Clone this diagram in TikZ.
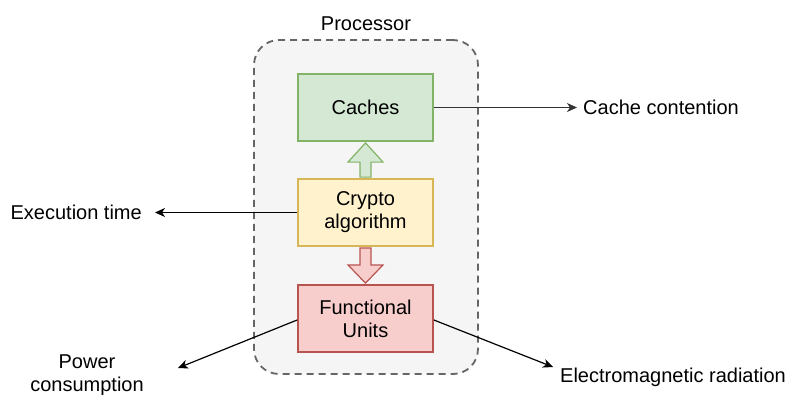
\documentclass[tikz,border=0pt]{standalone}
\usepackage{fontspec}
\setmainfont{Liberation Sans}
\usetikzlibrary{arrows.meta,calc}
\definecolor{contfill}{HTML}{F5F5F5}
\definecolor{contline}{HTML}{666666}
\definecolor{gfill}{HTML}{D5E8D4}
\definecolor{gline}{HTML}{82B366}
\definecolor{yfill}{HTML}{FFF2CC}
\definecolor{yline}{HTML}{D6B656}
\definecolor{rfill}{HTML}{F8CECC}
\definecolor{rline}{HTML}{B85450}
\definecolor{darkline}{HTML}{333333}
\tikzset{
  txt/.style={font=\fontsize{20}{23}\selectfont, align=center, inner sep=0pt},
  comp/.style={draw, line width=1.8pt, minimum width=135pt, minimum height=67pt, txt},
  container/.style={draw=contline, fill=contfill, line width=1.8pt, dash pattern=on 7pt off 5pt, rounded corners=25pt, minimum width=224pt, minimum height=334pt},
  leak/.style={line width=1.2pt, -{Stealth[length=10pt,width=9pt,inset=3pt]}},
  blockarrow/.style={line width=1.2pt}
}
\begin{document}
\begin{tikzpicture}[x=1pt,y=-1pt]
\useasboundingbox (0,0) rectangle (785,394);
\node[container] (proc) at (366,207) {};
\node[txt] (proclabel) at (366,24) {Processor};
\node[comp, fill=gfill, draw=gline] (caches) at (365.5,107.5) {Caches};
\node[comp, fill=yfill, draw=yline] (crypto) at (365.5,212.5) {Crypto\\algorithm};
\node[comp, fill=rfill, draw=rline] (fu) at (365.5,318.5) {Functional\\Units};
% block arrows
\draw[blockarrow, draw=gline, fill=gfill]
  ($(crypto.north)+(-5.5,-1)$) -- ($(crypto.north)+(-5.5,-16)$) -- ($(crypto.north)+(-17.5,-16)$)
  -- ($(caches.south)+(0,1)$) -- ($(crypto.north)+(17.5,-16)$) -- ($(crypto.north)+(5.5,-16)$)
  -- ($(crypto.north)+(5.5,-1)$) -- cycle;
\draw[blockarrow, draw=rline, fill=rfill]
  ($(crypto.south)+(-5.5,1)$) -- ($(crypto.south)+(-5.5,18)$) -- ($(crypto.south)+(-17.5,18)$)
  -- ($(fu.north)+(0,-1)$) -- ($(crypto.south)+(17.5,18)$) -- ($(crypto.south)+(5.5,18)$)
  -- ($(crypto.south)+(5.5,1)$) -- cycle;
% leakage labels
\node[txt, anchor=west] (contention) at (583,107.5) {Cache contention};
\node[txt, anchor=east] (exec) at (142,212.5) {Execution time};
\node[txt] (power) at (87,375.5) {Power\\consumption};
\node[txt, anchor=west] (em) at (560,377) {Electromagnetic radiation};
\coordinate (contend) at (577,107.5);
\coordinate (execend) at (155,212.5);
\coordinate (powerend) at (178,368);
\coordinate (emend) at (553,367);
% leakage arrows
\draw[leak, darkline] (caches.east) -- (contend);
\draw[leak] (crypto.west) -- (execend);
\draw[leak] ($(fu.west)+(0,1.5)$) -- (powerend);
\draw[leak] ($(fu.east)+(0,1.5)$) -- (emend);
\end{tikzpicture}
\end{document}
